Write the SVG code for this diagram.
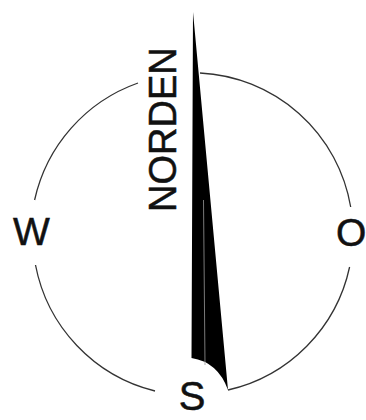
<svg xmlns="http://www.w3.org/2000/svg" width="366" height="420" viewBox="0 0 366 420">
<style>
.arc{fill:none;stroke:#333;stroke-width:1.3}
.lbl{font-family:"Liberation Sans",Arial,sans-serif;fill:#111;stroke:#111;stroke-width:0.5}
</style>
<rect width="366" height="420" fill="#fff"/>
<g id="connectors">
<path class="arc" d="M200,73 A161,161 0 0 1 350.7,207"/>
<path class="arc" d="M349.6,267 A161,161 0 0 1 228,390"/>
<path class="arc" d="M138,83 A161,161 0 0 0 34.6,200"/>
<path class="arc" d="M35.5,265 A161,161 0 0 0 155,391"/>
</g>
<g id="needle">
<path d="M193,12 L228,390 Q218,362 191.5,358 Z" fill="#000"/>
<line x1="203.5" y1="200" x2="205" y2="365" stroke="#999" stroke-width="0.8"/>
</g>
<g id="norden"><text class="lbl" font-size="38" transform="translate(176,212) rotate(-90)">NORDEN</text></g>
<g id="west"><text class="lbl" font-size="39" x="13" y="245">W</text></g>
<g id="east"><text class="lbl" font-size="39" x="336" y="246">O</text></g>
<g id="south"><text class="lbl" font-size="40" x="192" y="410" text-anchor="middle">S</text></g>
</svg>
